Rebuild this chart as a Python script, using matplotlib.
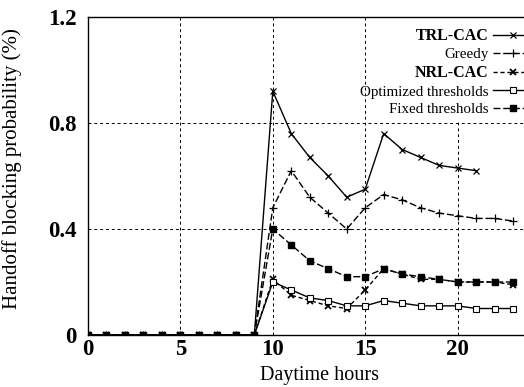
import matplotlib
matplotlib.use("Agg")
import matplotlib.pyplot as plt
from matplotlib.patches import Rectangle

plt.rcParams['font.family'] = ['Liberation Serif', 'DejaVu Serif']

hours_all = list(range(0, 24))
hours_trl = list(range(0, 22))

trl_cac = [0]*10 + [0.92, 0.76, 0.67, 0.60, 0.52, 0.55, 0.76, 0.70, 0.67, 0.64, 0.63, 0.62]
greedy = [0]*10 + [0.48, 0.62, 0.52, 0.46, 0.40, 0.48, 0.53, 0.51, 0.48, 0.46, 0.45, 0.44, 0.44, 0.43]
nrl_cac = [0]*10 + [0.21, 0.15, 0.13, 0.11, 0.10, 0.17, 0.25, 0.23, 0.21, 0.21, 0.20, 0.20, 0.20, 0.19]
optimized = [0]*10 + [0.20, 0.17, 0.14, 0.13, 0.11, 0.11, 0.13, 0.12, 0.11, 0.11, 0.11, 0.10, 0.10, 0.10]
fixed = [0]*10 + [0.40, 0.34, 0.28, 0.25, 0.22, 0.22, 0.25, 0.23, 0.22, 0.21, 0.20, 0.20, 0.20, 0.20]

xticks = [0, 5, 10, 15, 20]
yticks = [0, 0.4, 0.8, 1.2]
ytick_labels = ['0', '0.4', '0.8', '1.2']

W, H = 524, 387
fig = plt.figure(figsize=(W / 100, H / 100), dpi=100)
left, right, bottom, top = 88, 550, 335, 17
ax = fig.add_axes([left / W, 1 - bottom / H, (right - left) / W, (bottom - top) / H])

k = dict(color='black', lw=1.0)
ax.plot(hours_trl, trl_cac, '-', marker='x', ms=5, mew=0.9, label='TRL-CAC', **k)
ax.plot(hours_all, greedy, '--', marker='+', ms=6, mew=0.9, dashes=(5, 2), label='Greedy', **k)
ax.plot(hours_all, nrl_cac, '--', marker='x', ms=5, mew=1.3, dashes=(3, 2), label='NRL-CAC', **k)
ax.plot(hours_all, optimized, '-', marker='s', ms=4, mfc='white', mew=0.8, label='Optimized thresholds', **k)
ax.plot(hours_all, fixed, '--', marker='s', ms=5, mfc='black', dashes=(5, 2), label='Fixed thresholds', **k)

ax.set_xlim(0, 25)
ax.set_ylim(0, 1.2)
ax.set_xticks(xticks)
ax.set_yticks(yticks)
ax.set_yticklabels(ytick_labels)
for lab in ax.get_xticklabels() + ax.get_yticklabels():
    lab.set_fontsize(16.5)
    lab.set_fontweight('bold')
ax.tick_params(axis='x', length=0, pad=3)
ax.tick_params(axis='y', length=0, pad=8)
ax.grid(True, linestyle=(0, (3, 3)), color='black', lw=0.7)
ax.spines['right'].set_visible(False)
for s in ['top', 'left', 'bottom']:
    ax.spines[s].set_linewidth(1.0)

# white key area hiding the grid behind the legend (as in the reference)
ax.add_patch(Rectangle((372 / W, 1 - 120 / H), (W - 372) / W, (120 - 18) / H,
                       transform=fig.transFigure, facecolor='white',
                       edgecolor='none', zorder=1.8))

ax.set_xlabel('Daytime hours', fontsize=14.5, labelpad=4)
ax.set_ylabel('Handoff blocking probability (%)', fontsize=15, labelpad=12)
ax.yaxis.set_label_coords(-(88 - 22) / (right - left), (335 - 169) / (bottom - top))

leg = ax.legend(loc='upper right', bbox_to_anchor=(532 / W, 1 - 28 / H),
                bbox_transform=fig.transFigure, frameon=False,
                markerfirst=False, handlelength=2.6, handletextpad=0.3,
                labelspacing=0.26, borderaxespad=0.0, borderpad=0.0,
                fontsize=10.8)
for t in leg.get_texts():
    if t.get_text() in ('TRL-CAC', 'NRL-CAC'):
        t.set_fontweight('bold')
        t.set_fontsize(11.5)

fig.savefig('out.png', dpi=100)
